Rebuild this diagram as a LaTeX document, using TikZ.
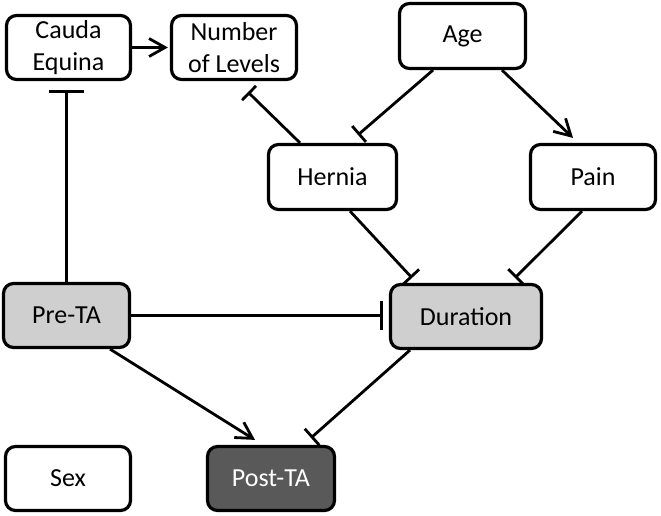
\documentclass[tikz,border=0pt]{standalone}
\usepackage{fontspec}
\setmainfont{Carlito}
\usetikzlibrary{arrows.meta}
\begin{document}
\begin{tikzpicture}[x=1pt,y=-1pt,
  box/.style={draw=black,line width=3.2pt,rounded corners=10pt,align=center,
    font=\fontsize{26}{32}\selectfont,inner sep=0pt,minimum height=64pt},
  lightbox/.style={box,fill=gray!38},
  darkbox/.style={box,fill=black!65,text=white},
  edge/.style={line width=2.8pt},
  act/.style={edge,-{Straight Barb[length=16pt,width=18pt,line width=2.8pt]}},
  inh/.style={edge,-{Bar[width=#1,line width=2.8pt]}},
  inh/.default=22pt]
\useasboundingbox (0,0) rectangle (661,515);
\node[box,minimum width=124pt] (cauda) at (68.5,47.5) {Cauda\\Equina};
\node[box,minimum width=125pt] (number) at (234,47.5) {Number\\of Levels};
\node[box,minimum width=126pt,minimum height=65pt] (age) at (462.5,36) {Age};
\node[box,minimum width=128pt,minimum height=65pt] (hernia) at (332.5,177) {Hernia};
\node[box,minimum width=125pt,minimum height=65pt] (pain) at (593,177) {Pain};
\node[lightbox,minimum width=126pt] (pre) at (66.5,315.5) {Pre-TA};
\node[lightbox,minimum width=151pt] (dur) at (466,316.5) {Duration};
\node[box,minimum width=125pt] (sex) at (68,478.5) {Sex};
\node[darkbox,minimum width=127pt] (post) at (271,478.5) {Post-TA};

\draw[act,shorten >=2pt] (cauda.east) -- (number.west);
\draw[inh=35pt] (pre.north) -- ([yshift=-9pt]pre.north |- cauda.south);
\draw[inh=20pt] ([xshift=-32.5pt]hernia.north) -- ([xshift=14pt,yshift=-11pt]number.south);
\draw[inh=21pt] ([xshift=-29.5pt]age.south) -- ([xshift=25.5pt,yshift=8pt]hernia.north);
\draw[act] ([xshift=39.5pt]age.south) -- ([xshift=-20pt,yshift=5pt]pain.north);
\draw[inh] ([xshift=17.5pt]hernia.south) -- ([xshift=-54pt,yshift=5pt]dur.north);
\draw[inh] ([xshift=-11pt]pain.south) -- ([xshift=49pt,yshift=5pt]dur.north);
\draw[inh=29pt,shorten >=6pt] (pre.east) -- (pre.east -| dur.west);
\draw[act] ([xshift=43.5pt]pre.south) -- ([xshift=-16pt,yshift=5pt]post.north);
\draw[inh] ([xshift=-56pt]dur.south) -- ([xshift=40pt,yshift=7pt]post.north);
\end{tikzpicture}
\end{document}
